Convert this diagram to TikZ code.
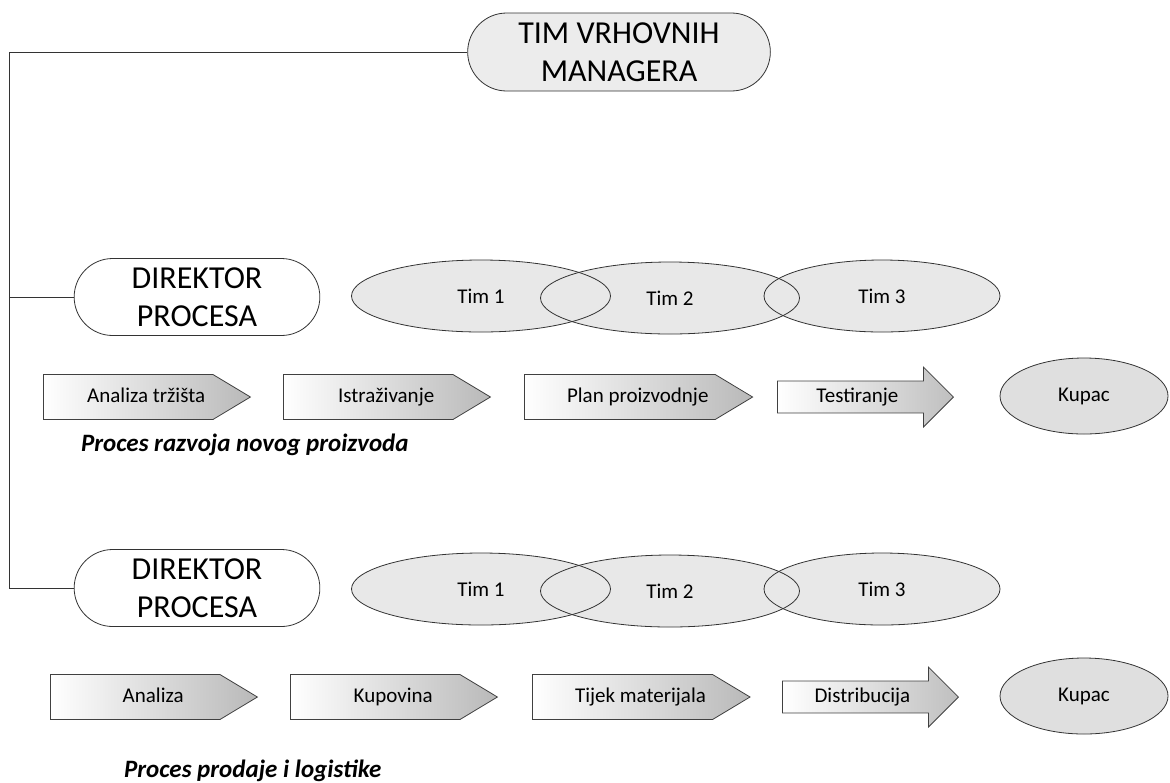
\documentclass[tikz,border=0pt]{standalone}
\usepackage{fontspec}
\setmainfont{Carlito}
\usetikzlibrary{shapes.geometric, shapes.misc, shapes.symbols, shapes.arrows}

\begin{document}
\begin{tikzpicture}[x=0.5pt, y=-0.5pt,
  vrh/.style={rounded rectangle, draw=black!80, fill=gray!15, minimum width=158pt, minimum height=39pt,
    align=center, font=\fontsize{16}{19}\selectfont},
  direktor/.style={rounded rectangle, draw=black!80, fill=white, minimum width=129.5pt, minimum height=38.5pt,
    align=center, font=\fontsize{16}{19}\selectfont},
  tim/.style={ellipse, draw=black!80, fill=gray!18, blend mode=darken, minimum width=129.5pt, minimum height=36pt,
    font=\fontsize{10.5}{12}\selectfont},
  kupac/.style={ellipse, draw=black!80, fill=gray!25, minimum width=84pt, minimum height=38pt,
    font=\fontsize{10.5}{12}\selectfont},
  korak/.style={signal, signal to=east, signal from=nowhere, signal pointer angle=62, anchor=west,
    draw=black!75, left color=white, right color=gray!55, minimum width=103.5pt, minimum height=22.5pt,
    text height=1.6ex, text depth=.4ex, font=\fontsize{10.5}{12}\selectfont,
    execute at begin node={\hspace*{18pt}}},
  strelica/.style={single arrow, single arrow head extend=7pt, single arrow head indent=0pt, anchor=west,
    draw=black!75, left color=white, right color=gray!50, minimum height=88pt, inner ysep=3pt,
    text height=1.6ex, text depth=.4ex, font=\fontsize{10.5}{12}\selectfont},
  naslov/.style={anchor=west, font=\fontsize{12.5}{14}\selectfont\bfseries\itshape}]
\useasboundingbox (0,0) rectangle (1170,782);

% uprava
\node at (619, 52) (vrh) [vrh] {TIM VRHOVNIH\\MANAGERA};
\coordinate (kralj) at (9, 52);

% proces razvoja novog proizvoda
\node at (197, 297) (dir1) [direktor] {DIREKTOR\\PROCESA};
\node at (481, 296) (t11) [tim] {Tim 1};
\node at (670, 298) (t12) [tim] {Tim 2};
\node at (882, 296) (t13) [tim, minimum width=118pt] {Tim 3};
\node at (43, 397) (k11) [korak] {Analiza tržišta};
\node at (283, 397) (k12) [korak] {Istraživanje};
\node at (524, 397) (k13) [korak] {Plan proizvodnje};
\node at (777, 397) (k14) [strelica] {Testiranje};
\node at (1084, 396) (kup1) [kupac] {Kupac};
\node at (74, 445) (n1) [naslov] {Proces razvoja novog proizvoda};

% proces prodaje i logistike
\node at (197, 588) (dir2) [direktor] {DIREKTOR\\PROCESA};
\node at (481, 589) (t21) [tim] {Tim 1};
\node at (670, 591) (t22) [tim] {Tim 2};
\node at (882, 589) (t23) [tim, minimum width=118pt] {Tim 3};
\node at (50, 697) (k21) [korak] {Analiza};
\node at (290, 697) (k22) [korak] {Kupovina};
\node at (532, 697) (k23) [korak] {Tijek materijala};
\node at (782, 697) (k24) [strelica] {Distribucija};
\node at (1084, 696) (kup2) [kupac] {Kupac};
\node at (117, 771) (n2) [naslov] {Proces prodaje i logistike};

\draw [black!80] (vrh.west) -- (vrh.west -| kralj) -- (dir2.west -| kralj) -- (dir2.west);
\draw [black!80] (dir1.west -| kralj) -- (dir1.west);
\end{tikzpicture}
\end{document}
